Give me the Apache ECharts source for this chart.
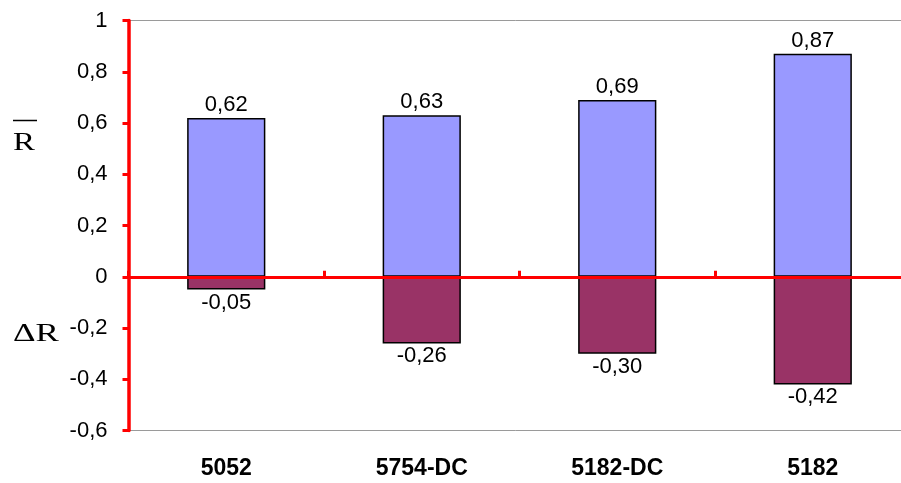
<!DOCTYPE html>
<html>
<head>
<meta charset="utf-8">
<script src="https://cdn.jsdelivr.net/npm/echarts@6/dist/echarts.min.js"></script>
<style>
  html, body { margin: 0; padding: 0; background: #ffffff; }
  #chart { width: 901px; height: 483px; }
</style>
</head>
<body>
<div id="chart"></div>
<script>
// Alloy grades on the category axis
const categories = ['5052', '5754-DC', '5182-DC', '5182'];
// Mean value R̄ for each grade
const meanR = [0.62, 0.63, 0.69, 0.87];
// Variation ΔR for each grade
const deltaR = [-0.05, -0.26, -0.30, -0.42];
// Value axis range and step
const yMin = -0.6;
const yMax = 1;
const yStep = 0.2;

const SANS = '"Liberation Sans", Arial, sans-serif';
const SERIF = '"Liberation Serif", "Times New Roman", serif';
const RED = '#ff0000';

const decimalComma = (v, digits) => v.toFixed(digits).replace('.', ',');
const tickText = v => {
  const r = Math.round(v * 10) / 10;
  return String(r).replace('.', ',');
};

const chart = echarts.init(document.getElementById('chart'), null, { renderer: 'canvas' });

chart.setOption({
  animation: false,
  backgroundColor: '#ffffff',
  grid: {
    left: 128.5,
    top: 20.5,
    width: 782,
    height: 410,
    outerBoundsMode: 'none',
    containLabel: false,
    show: true,
    borderColor: '#9a9a9a',
    borderWidth: 1,
    backgroundColor: 'transparent'
  },
  xAxis: [
    {
      // category names along the bottom edge
      type: 'category',
      data: categories,
      position: 'bottom',
      axisLine: { show: false, onZero: false },
      axisTick: { show: false },
      axisLabel: {
        fontFamily: SANS,
        fontWeight: 'bold',
        fontSize: 23,
        color: '#000',
        margin: 27
      },
      splitLine: { show: false }
    },
    {
      // zero line with category separators, drawn over the bars
      type: 'category',
      data: categories,
      position: 'bottom',
      z: 5,
      axisLine: { show: true, onZero: true, lineStyle: { color: RED, width: 3 } },
      axisTick: { show: true, inside: true, length: 6, lineStyle: { color: RED, width: 3 } },
      axisLabel: { show: false },
      splitLine: { show: false }
    }
  ],
  yAxis: {
    type: 'value',
    min: yMin,
    max: yMax,
    interval: yStep,
    z: 5,
    axisLine: { show: true, lineStyle: { color: RED, width: 3.5 } },
    axisTick: { show: true, length: 6, lineStyle: { color: RED, width: 3 } },
    axisLabel: {
      fontFamily: SANS,
      fontSize: 22,
      color: '#000',
      margin: 21,
      formatter: tickText
    },
    splitLine: { show: false }
  },
  series: [
    {
      name: 'R̄',
      type: 'bar',
      xAxisIndex: 1,
      data: meanR,
      barWidth: '40%',
      barGap: '-100%',
      itemStyle: { color: '#9999ff', borderColor: '#000', borderWidth: 1.5 },
      label: {
        show: true,
        position: 'top',
        distance: 2,
        fontFamily: SANS,
        fontSize: 22,
        color: '#000',
        formatter: p => decimalComma(p.value, 2)
      }
    },
    {
      name: 'ΔR',
      type: 'bar',
      xAxisIndex: 1,
      data: deltaR,
      barWidth: '40%',
      barGap: '-100%',
      itemStyle: { color: '#993366', borderColor: '#000', borderWidth: 1.5 },
      label: {
        show: true,
        position: 'bottom',
        distance: 2,
        fontFamily: SANS,
        fontSize: 22,
        color: '#000',
        formatter: p => decimalComma(p.value, 2)
      }
    }
  ],
  graphic: [
    {
      type: 'line',
      shape: { x1: 13, y1: 120.5, x2: 37, y2: 120.5 },
      style: { stroke: '#000', lineWidth: 1.5 }
    },
    {
      type: 'text',
      x: 13,
      y: 143,
      scaleX: 1.27,
      style: {
        text: 'R',
        font: '26px ' + SERIF,
        fill: '#000',
        textVerticalAlign: 'middle'
      }
    },
    {
      type: 'text',
      x: 13,
      y: 334.5,
      scaleX: 1.35,
      style: {
        text: 'ΔR',
        font: '26px ' + SERIF,
        fill: '#000',
        textVerticalAlign: 'middle'
      }
    }
  ]
});
</script>
</body>
</html>
